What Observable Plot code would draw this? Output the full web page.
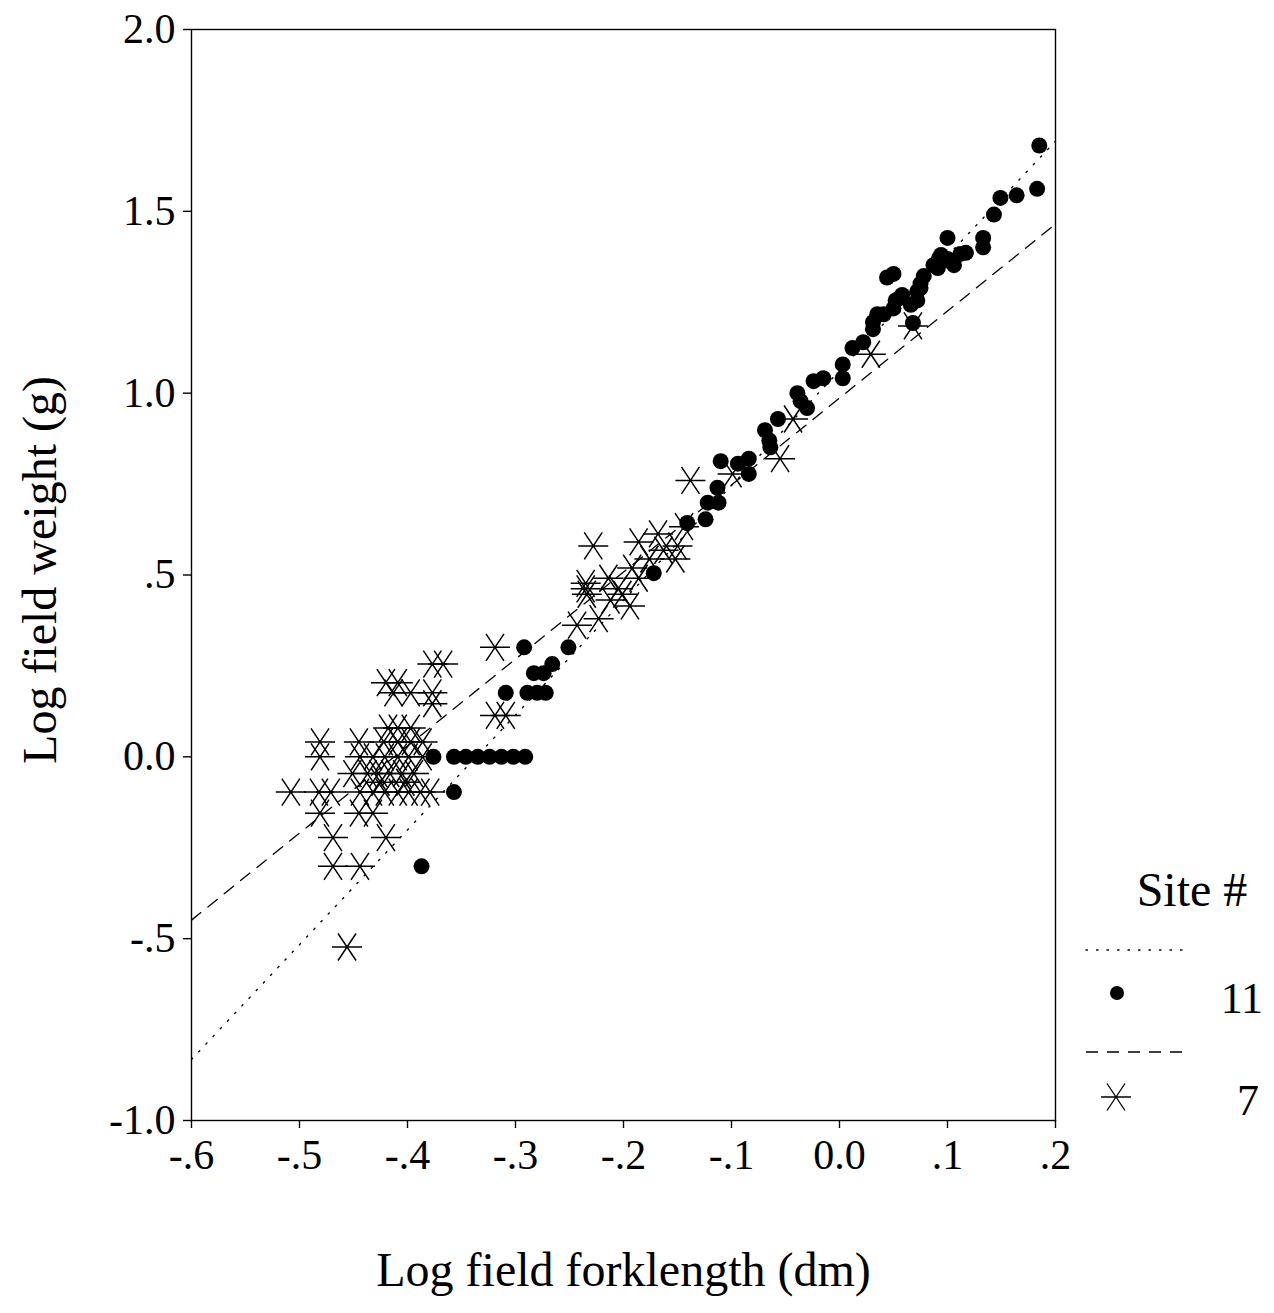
<!DOCTYPE html>
<html><head><meta charset="utf-8">
<script src="https://cdn.jsdelivr.net/npm/d3@7"></script>
<script src="https://cdn.jsdelivr.net/npm/@observablehq/plot@0.6"></script>
<style>
body{margin:0;background:#fff;}
#wrap{position:relative;width:1274px;height:1313px;font-family:"Liberation Serif","Times New Roman",serif;}
#legend{position:absolute;left:0;top:0;}
</style></head><body><div id="wrap"></div>
<script>
// Site 11 (filled circles)
const site11X = [-0.387,-0.357,-0.376,-0.357,-0.346,-0.335,-0.324,-0.313,-0.302,-0.291,-0.309,-0.289,-0.280,-0.272,-0.292,-0.283,-0.274,-0.266,-0.251,-0.172,-0.141,-0.124,-0.122,-0.112,-0.113,-0.110,-0.094,-0.084,-0.084,-0.069,-0.064,-0.065,-0.057,-0.039,-0.036,-0.030,-0.024,-0.015,0.003,0.003,0.012,0.022,0.031,0.031,0.035,0.041,0.050,0.052,0.056,0.058,0.044,0.050,0.068,0.066,0.072,0.075,0.075,0.078,0.087,0.092,0.094,0.100,0.100,0.103,0.106,0.112,0.117,0.133,0.133,0.143,0.149,0.164,0.183,0.185,0.072,0.091];
const site11Y = [-0.301,-0.097,0,0,0,0,0,0,0,0,0.176,0.176,0.176,0.176,0.301,0.230,0.230,0.255,0.301,0.505,0.643,0.653,0.699,0.699,0.740,0.813,0.806,0.820,0.778,0.898,0.851,0.870,0.929,1.0,0.978,0.959,1.033,1.041,1.079,1.041,1.124,1.140,1.176,1.195,1.217,1.217,1.233,1.255,1.262,1.270,1.318,1.328,1.193,1.243,1.255,1.301,1.289,1.322,1.352,1.369,1.380,1.427,1.369,1.362,1.352,1.383,1.386,1.427,1.401,1.491,1.537,1.544,1.562,1.681,1.280,1.344];

// Site 7 (asterisks)
const site7X = [-0.138,-0.099,-0.055,-0.043,0.029,0.068,
  -0.243,-0.228,-0.223,-0.235,-0.235,-0.234,-0.214,-0.212,-0.194,-0.192,-0.186,-0.186,-0.176,-0.168,-0.163,-0.152,-0.150,-0.144,-0.201,-0.205,
  -0.319,-0.377,-0.367,-0.420,-0.409,-0.413,-0.397,-0.377,-0.377,-0.319,-0.309,-0.418,-0.409,-0.397,
  -0.481,-0.445,-0.422,-0.409,-0.397,-0.386,
  -0.481,-0.444,-0.432,-0.421,-0.409,-0.399,-0.386,
  -0.451,-0.437,-0.427,-0.416,-0.405,-0.394,-0.425,-0.402,
  -0.508,-0.482,-0.471,-0.444,-0.432,-0.421,-0.409,-0.399,-0.388,-0.379,
  -0.481,-0.445,-0.432,-0.469,-0.420,-0.469,-0.444,-0.456];
const site7Y = [0.760,0.778,0.820,0.929,1.107,1.185,
  0.362,0.580,0.380,0.477,0.462,0.447,0.491,0.431,0.415,0.519,0.491,0.591,0.544,0.613,0.568,0.544,0.580,0.633,0.447,0.462,
  0.301,0.255,0.255,0.204,0.204,0.176,0.176,0.176,0.146,0.114,0.114,0.079,0.079,0.079,
  0.041,0.041,0.041,0.041,0.041,0.041,
  0,0,0,0,0,0,0,
  -0.046,-0.046,-0.046,-0.046,-0.046,-0.046,-0.070,-0.070,
  -0.097,-0.097,-0.097,-0.097,-0.097,-0.097,-0.097,-0.097,-0.097,-0.097,
  -0.155,-0.155,-0.155,-0.222,-0.222,-0.301,-0.301,-0.523];

// Fitted regression lines (endpoints)
const fit11X = [-0.6, 0.2], fit11Y = [-0.832, 1.693];
const fit7X = [-0.6, 0.2], fit7Y = [-0.449, 1.465];

// Ticks
const xTicks = [-0.6,-0.5,-0.4,-0.3,-0.2,-0.1,0,0.1,0.2];
const xTickLabels = ["-.6","-.5","-.4","-.3","-.2","-.1","0.0",".1",".2"];
const yTicks = [-1,-0.5,0,0.5,1,1.5,2];
const yTickLabels = ["-1.0","-.5","0.0",".5","1.0","1.5","2.0"];

const seriesNames = ["11","7"];

const s11 = site11X.map((x,i)=>({x, y: site11Y[i]}));
const s7 = site7X.map((x,i)=>({x, y: site7Y[i]}));
const f11 = fit11X.map((x,i)=>({x, y: fit11Y[i]}));
const f7 = fit7X.map((x,i)=>({x, y: fit7Y[i]}));

const xLab = new Map(xTicks.map((t,i)=>[t.toFixed(1), xTickLabels[i]]));
const yLab = new Map(yTicks.map((t,i)=>[t.toFixed(1), yTickLabels[i]]));

const asterisk = {
  draw(ctx, size) {
    const r = Math.sqrt(size / Math.PI);
    ctx.moveTo(-r, 0); ctx.lineTo(r, 0);
    ctx.moveTo(-0.6*r, -0.9*r); ctx.lineTo(0.6*r, 0.9*r);
    ctx.moveTo(0.6*r, -0.9*r); ctx.lineTo(-0.6*r, 0.9*r);
  }
};

const chart = Plot.plot({
  width: 1274, height: 1313,
  marginLeft: 191, marginRight: 219, marginTop: 29, marginBottom: 193,
  style: {fontFamily: '"Liberation Serif","Times New Roman",serif', color: "black", background: "white"},
  x: {domain: [-0.6, 0.2]},
  y: {domain: [-1, 2]},
  marks: [
    Plot.frame({stroke: "black", strokeWidth: 1.4}),
    Plot.axisX(xTicks, {tickFormat: d => xLab.get(d.toFixed(1)), fontSize: 42, tickSize: 8, tickPadding: 11, label: null, strokeWidth: 1.4}),
    Plot.axisY(yTicks, {tickFormat: d => yLab.get(d.toFixed(1)), fontSize: 42, tickSize: 8, tickPadding: 8, label: null, strokeWidth: 1.4}),
    Plot.line(f11, {x: "x", y: "y", stroke: "black", strokeWidth: 1.4, strokeDasharray: "1.5,9", strokeLinecap: "round"}),
    Plot.line(f7, {x: "x", y: "y", stroke: "black", strokeWidth: 1.3, strokeDasharray: "12,9"}),
    Plot.dot(s7, {x: "x", y: "y", symbol: asterisk, r: 15, fill: "none", stroke: "black", strokeWidth: 1.5}),
    Plot.dot(s11, {x: "x", y: "y", r: 8, fill: "black", stroke: "none"}),
    Plot.text(["Log field forklength (dm)"], {frameAnchor: "bottom", dy: 165, fontSize: 48, fill: "black", textAnchor: "middle"}),
    Plot.text(["Log field weight (g)"], {frameAnchor: "left", dx: -151, dy: -5, rotate: -90, fontSize: 48, fill: "black", textAnchor: "middle"})
  ]
});
const wrap = document.getElementById("wrap");
wrap.appendChild(chart);

// Legend overlay
const lg = d3.select(wrap).append("svg").attr("id","legend").attr("width",1274).attr("height",1313)
  .style("font-family",'"Liberation Serif","Times New Roman",serif');
lg.append("text").attr("x",1192).attr("y",906).attr("text-anchor","middle").attr("font-size",48).text("Site #");
lg.append("line").attr("x1",1086).attr("x2",1182).attr("y1",950).attr("y2",950)
  .attr("stroke","black").attr("stroke-width",1.3).attr("stroke-dasharray","1.5,9").attr("stroke-linecap","round");
lg.append("circle").attr("cx",1117).attr("cy",993).attr("r",7).attr("fill","black");
lg.append("text").attr("x",1263).attr("y",1013).attr("text-anchor","end").attr("font-size",44).text(seriesNames[0]);
lg.append("line").attr("x1",1086).attr("x2",1184).attr("y1",1052).attr("y2",1052)
  .attr("stroke","black").attr("stroke-width",1.3).attr("stroke-dasharray","12,9");
lg.append("path").attr("transform","translate(1116,1097)")
  .attr("d", d3.symbol(asterisk, 15*15*Math.PI)())
  .attr("fill","none").attr("stroke","black").attr("stroke-width",1.3);
lg.append("text").attr("x",1259).attr("y",1115).attr("text-anchor","end").attr("font-size",44).text(seriesNames[1]);
</script></body></html>
